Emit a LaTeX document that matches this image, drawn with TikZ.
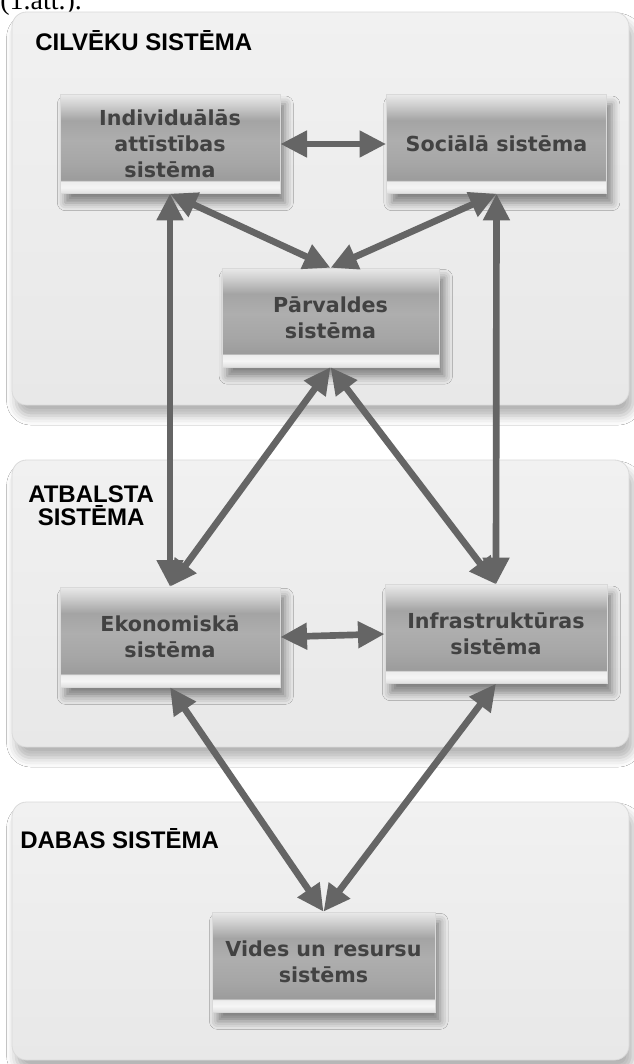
\documentclass[tikz,border=0pt]{standalone}
\usepackage{fontspec}
\setmainfont{Liberation Sans}
\newfontfamily\boxfont{DejaVu Sans}
\newfontfamily\seriffont{Liberation Serif}
\usetikzlibrary{arrows.meta,shadows.blur}

\definecolor{arrowgray}{HTML}{656565}
\definecolor{boxtext}{HTML}{424242}
\definecolor{paneltop}{HTML}{F1F1F1}
\definecolor{panelbot}{HTML}{E8E8E8}
\definecolor{panelline}{HTML}{DADADA}
\definecolor{sA}{HTML}{E0E0E0}
\definecolor{sB}{HTML}{F5F5F5}
\definecolor{sC}{HTML}{EDEDED}
\definecolor{sD}{HTML}{9C9C9C}
\definecolor{sE}{HTML}{A6A6A6}
\definecolor{sF}{HTML}{AEAEAE}
\definecolor{sG}{HTML}{A4A4A4}
\definecolor{sH}{HTML}{D0D0D0}
\definecolor{sI}{HTML}{E9E9E9}

\pgfdeclareverticalshading{boxshade}{100bp}{color(0bp)=(sA); color(25bp)=(sA); color(28bp)=(sB); color(31bp)=(sC); color(31.8bp)=(sD); color(40bp)=(sE); color(52bp)=(sF); color(62bp)=(sG); color(70bp)=(sH); color(75bp)=(sI); color(100bp)=(sI)}

\tikzset{
  panel/.style={top color=paneltop, bottom color=panelbot, draw=panelline, line width=0.6pt, rounded corners=11pt,
    blur shadow={shadow xshift=3pt, shadow yshift=-8pt, shadow blur radius=7pt, shadow opacity=30}},
  sysbox/.style={shading=boxshade, draw=gray!30, line width=0.5pt, inner sep=0pt,
    minimum width=165pt, minimum height=74pt, align=center, text=boxtext,
    font=\boxfont\bfseries\fontsize{15.5}{19.5}\selectfont,
    blur shadow={shadow xshift=4pt, shadow yshift=-7pt, shadow blur radius=6pt, shadow opacity=45}},
  paneltitle/.style={inner sep=0pt, text=black, font=\bfseries\fontsize{18}{17.3}\selectfont},
  biarrow/.style={draw=arrowgray, line width=5pt,
    {Triangle[length=20pt,width=19pt]}-{Triangle[length=20pt,width=19pt]}}
}

\begin{document}
\begin{tikzpicture}[x=0.75pt,y=-0.75pt]
\useasboundingbox (0,0) rectangle (634,1064);
\fill[white] (0,0) rectangle (634,1064);

% top caption (partly cut off, as in the source)
\node[anchor=base west, inner sep=0pt, font=\seriffont\fontsize{21}{24}\selectfont] (cap) at (0,9) {(1.att.).};

% panels
\path[panel] (12,12) rectangle (629,405);
\path[panel] (12,460) rectangle (629,747);
\path[panel] (12,802) rectangle (629,1060);

% panel titles
\node[paneltitle, anchor=base west] (t1) at (35,50) {CILVĒKU SISTĒMA};
\node[paneltitle, anchor=north west, align=center] (t2) at (28,485) {ATBALSTA\\SISTĒMA};
\node[paneltitle, anchor=base west] (t3) at (20,848) {DABAS SISTĒMA};

% system boxes
\node[sysbox] (ind) at (170,144) {Individuālās\\attīstības\\sistēma};
\node[sysbox] (soc) at (496.5,144) {Sociālā sistēma};
\node[sysbox, minimum width=163pt] (par) at (330.5,317.5) {Pārvaldes\\sistēma};
\node[sysbox, minimum height=75pt] (eko) at (170,637) {Ekonomiskā\\sistēma};
\node[sysbox, minimum width=166.5pt] (inf) at (496,634) {Infrastruktūras\\sistēma};
\node[sysbox, minimum width=167pt, minimum height=75pt] (vid) at (323.5,962) {Vides un resursu\\sistēms};

% connectors
\draw[biarrow] (ind.east) -- (soc.west);
\draw[biarrow] (ind.south) -- (par.north);
\draw[biarrow] (soc.south) -- (par.north);
\draw[biarrow] (ind.south) -- (eko.north);
\draw[biarrow] (soc.south) -- (inf.north);
\draw[biarrow] (par.south) -- (eko.north);
\draw[biarrow] (par.south) -- (inf.north);
\draw[biarrow] (eko.east) -- (inf.west);
\draw[biarrow] (eko.south) -- (vid.north);
\draw[biarrow] (inf.south) -- (vid.north);
\end{tikzpicture}
\end{document}
